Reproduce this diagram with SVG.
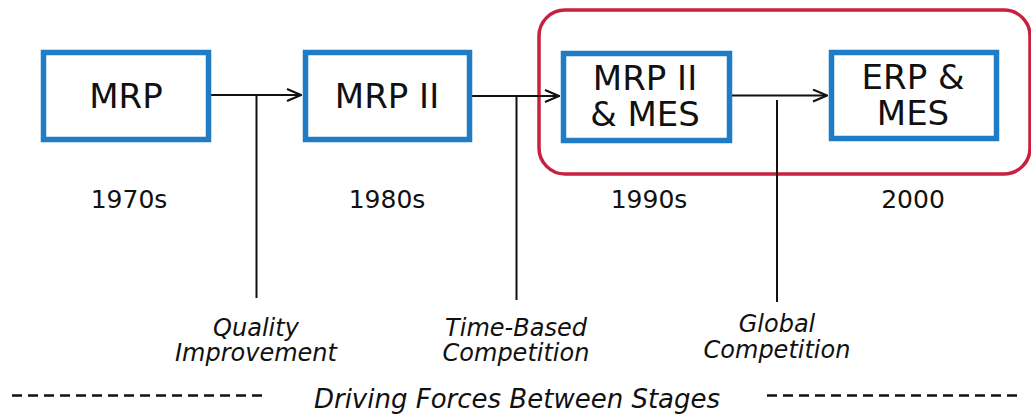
<svg xmlns="http://www.w3.org/2000/svg" width="1031" height="419" viewBox="0 0 1031 419">
<style>
.box{fill:#fff;stroke:#1f7cc5;stroke-width:5.5}
.lbl{font-family:"DejaVu Sans",Verdana,sans-serif;font-size:34px;fill:#111;text-anchor:middle}
.yr{font-family:"DejaVu Sans",Verdana,sans-serif;font-size:25px;fill:#111;text-anchor:middle}
.it{font-family:"DejaVu Sans",Verdana,sans-serif;font-style:italic;font-size:24px;fill:#111;text-anchor:middle}
.ln{stroke:#111;stroke-width:2;fill:none}
.dash{stroke:#111;stroke-width:2.5;stroke-dasharray:10 6;fill:none}
</style>
<defs>
<marker id="arr" markerWidth="16" markerHeight="14" refX="15" refY="7" orient="auto" markerUnits="userSpaceOnUse">
<path d="M1,1 L15,7 L1,13" fill="none" stroke="#111" stroke-width="2"/>
</marker>
</defs>
<rect id="highlight" x="539" y="10" width="491" height="164" rx="26" ry="26" fill="none" stroke="#c8213f" stroke-width="3.5"/>
<g id="connectors">
<line class="ln" x1="208" y1="95" x2="301" y2="95" marker-end="url(#arr)"/>
<line class="ln" x1="469" y1="96" x2="559" y2="96" marker-end="url(#arr)"/>
<line class="ln" x1="729" y1="95.5" x2="827" y2="95.5" marker-end="url(#arr)"/>
<line class="ln" x1="256.5" y1="95" x2="256.5" y2="298"/>
<line class="ln" x1="516.5" y1="96" x2="516.5" y2="300"/>
<line class="ln" x1="777" y1="100" x2="777" y2="302"/>
</g>
<g id="mrp">
<rect class="box" x="43.5" y="52.5" width="165" height="87"/>
<text class="lbl" x="126" y="108">MRP</text>
<text class="yr" x="129" y="208">1970s</text>
</g>
<g id="mrp2">
<rect class="box" x="305.5" y="52.5" width="164" height="87"/>
<text class="lbl" x="387" y="108">MRP II</text>
<text class="yr" x="387" y="208">1980s</text>
</g>
<g id="mrp2mes">
<rect class="box" x="563.5" y="53.5" width="166" height="87"/>
<text class="lbl" x="645" y="90">MRP II</text>
<text class="lbl" x="645" y="126">&amp; MES</text>
<text class="yr" x="649" y="208">1990s</text>
</g>
<g id="erpmes">
<rect class="box" x="831.5" y="52.5" width="165" height="86"/>
<text class="lbl" x="913" y="89">ERP &amp;</text>
<text class="lbl" x="913" y="125">MES</text>
<text class="yr" x="913" y="208">2000</text>
</g>
<g id="forces">
<text class="it" x="256" y="336">Quality</text>
<text class="it" x="256" y="361">Improvement</text>
<text class="it" x="516" y="336">Time-Based</text>
<text class="it" x="516" y="361">Competition</text>
<text class="it" x="777" y="332">Global</text>
<text class="it" x="777" y="358">Competition</text>
</g>
<g id="footer">
<line class="dash" x1="12" y1="395.5" x2="264" y2="395.5"/>
<line class="dash" x1="767" y1="395.5" x2="1022" y2="395.5"/>
<text class="it" x="517" y="408" style="font-size:26px">Driving Forces Between Stages</text>
</g>
</svg>
